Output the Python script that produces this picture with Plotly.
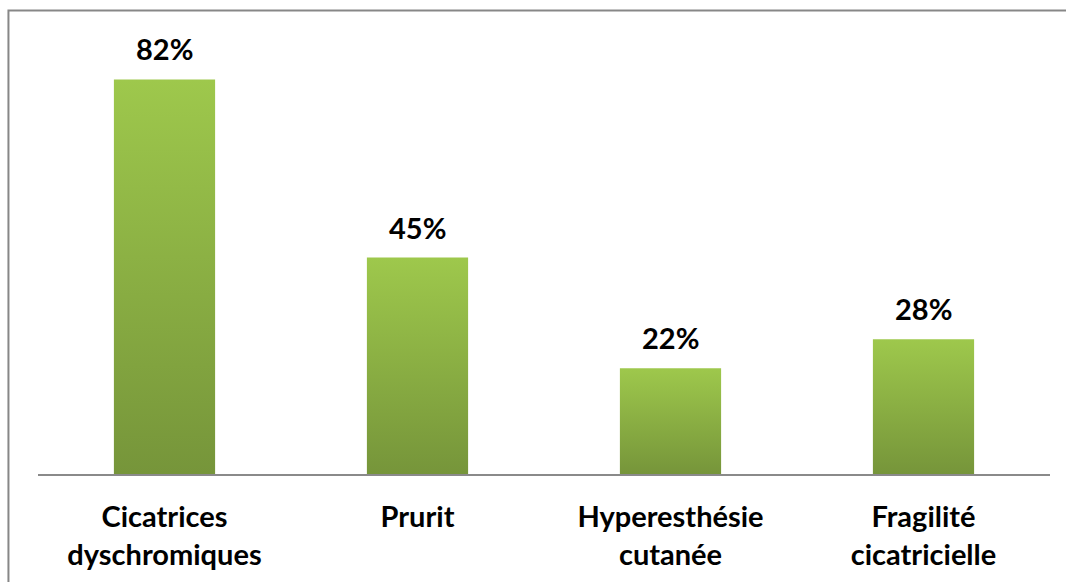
import plotly.graph_objects as go

# Symptom categories and their frequencies (%)
categories = ["Cicatrices<br>dyschromiques", "Prurit", "Hyperesthésie<br>cutanée", "Fragilité<br>cicatricielle"]
values = [82, 45, 22, 28]
value_labels = ["82%", "45%", "22%", "28%"]

bar_half_width = 0.2
font_family = "Lato, 'Open Sans', sans-serif"

fig = go.Figure()

# Each bar is a filled polygon so it can carry a vertical green gradient
for i, v in enumerate(values):
    fig.add_trace(go.Scatter(
        x=[i - bar_half_width, i - bar_half_width, i + bar_half_width, i + bar_half_width, i - bar_half_width],
        y=[0, v, v, 0, 0],
        mode="lines",
        line=dict(width=0),
        fill="toself",
        fillgradient=dict(type="vertical", colorscale=[[0, "#76953a"], [1, "#9ec84c"]]),
        hoverinfo="skip",
        showlegend=False,
    ))

# Value labels above the bars
for i, (v, t) in enumerate(zip(values, value_labels)):
    fig.add_annotation(
        x=i, y=v, text=t, showarrow=False,
        yanchor="bottom", yshift=11,
        font=dict(family=font_family, size=29, color="black", weight="bold"),
    )

fig.update_layout(
    width=1066, height=582,
    margin=dict(l=38, r=16, t=41, b=108),
    paper_bgcolor="white", plot_bgcolor="white",
    xaxis=dict(
        range=[-0.5, 3.5],
        tickvals=list(range(len(categories))),
        ticktext=categories,
        automargin=False,
        showgrid=False, zeroline=False,
        showline=True, linecolor="#8a8a8a", linewidth=2,
        ticks="outside", ticklen=16, tickcolor="rgba(0,0,0,0)",
        tickfont=dict(family=font_family, size=29, color="black", weight="bold"),
    ),
    yaxis=dict(range=[0, 90], visible=False),
    shapes=[dict(
        type="rect", xref="paper", yref="paper",
        x0=-0.0292, x1=1.2, y0=-0.4, y1=1.0706,
        line=dict(color="#878787", width=2),
        fillcolor="rgba(0,0,0,0)", layer="above",
    )],
)

fig.write_html("out.html")
